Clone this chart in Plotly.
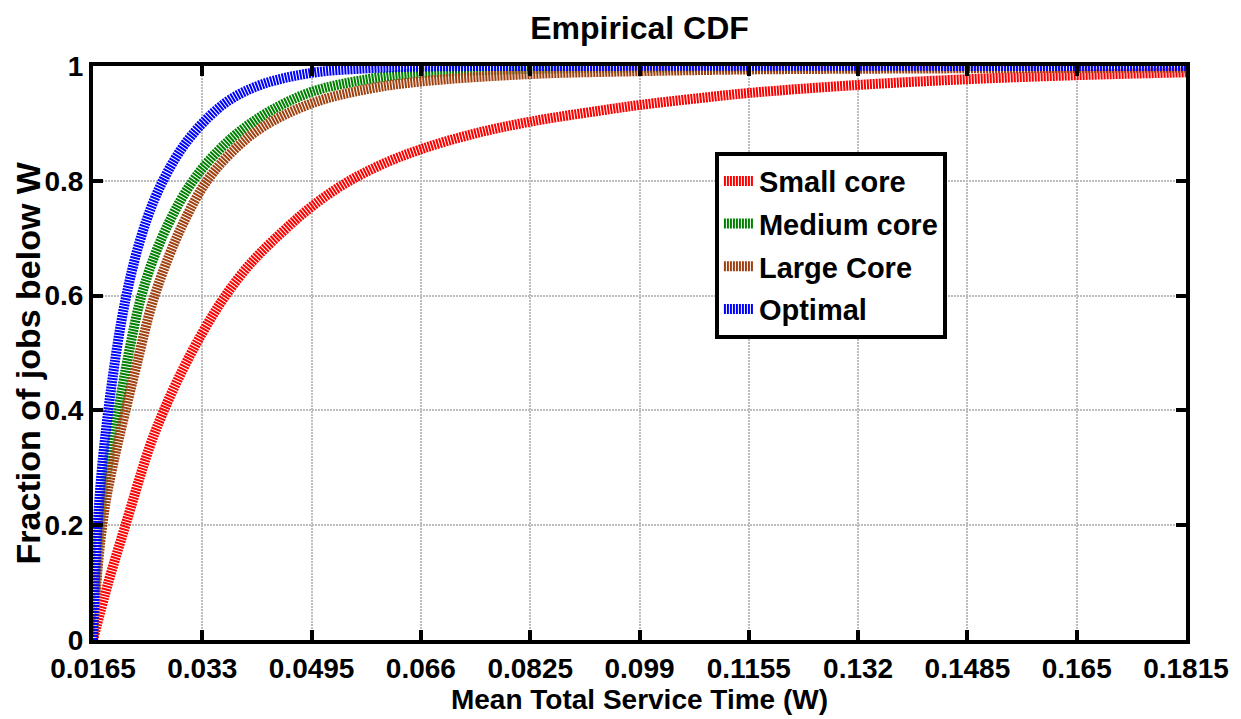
import plotly.graph_objects as go

# ---- data ----
small_x = [0.0165, 0.0188, 0.0214, 0.0250, 0.0272, 0.0300, 0.0330, 0.0362, 0.0402, 0.0450,
           0.0495, 0.0545, 0.0600, 0.0660, 0.0740, 0.0825, 0.0929, 0.0990, 0.1080, 0.1155,
           0.1320, 0.1485, 0.1650, 0.1815]
small_y = [0.0, 0.10, 0.20, 0.335, 0.40, 0.47, 0.535, 0.595, 0.655, 0.71,
           0.755, 0.795, 0.828, 0.855, 0.882, 0.903, 0.922, 0.932, 0.944, 0.953,
           0.967, 0.977, 0.984, 0.989]

medium_x = [0.0165, 0.0168, 0.0173, 0.0180, 0.0190, 0.0203, 0.0219, 0.0237, 0.0258, 0.0283,
            0.0310, 0.0340, 0.0380, 0.0430, 0.0495, 0.0580, 0.0660, 0.0825, 0.0990, 0.1320,
            0.1815]
medium_y = [0.0, 0.08, 0.17, 0.25, 0.32, 0.40, 0.50, 0.595, 0.67, 0.735,
            0.79, 0.835, 0.88, 0.92, 0.955, 0.977, 0.988, 0.995, 0.997, 0.999,
            1.0]

large_x = [0.0165, 0.0169, 0.0175, 0.0184, 0.0196, 0.0212, 0.0231, 0.0254, 0.0280, 0.0305,
           0.0334, 0.0370, 0.0420, 0.0495, 0.0580, 0.0660, 0.0825, 0.0990, 0.1155, 0.1485,
           0.1815]
large_y = [0.0, 0.08, 0.16, 0.24, 0.31, 0.39, 0.48, 0.585, 0.67, 0.735,
           0.795, 0.845, 0.893, 0.935, 0.960, 0.973, 0.986, 0.991, 0.994, 0.996,
           0.997]

optimal_x = [0.0165, 0.0167, 0.0171, 0.0177, 0.0185, 0.0195, 0.0207, 0.0221, 0.0237, 0.0255,
             0.0275, 0.0300, 0.0330, 0.0370, 0.0420, 0.0495, 0.0580, 0.0660, 0.0825, 0.1815]
optimal_y = [0.0, 0.08, 0.18, 0.28, 0.37, 0.46, 0.55, 0.63, 0.70, 0.76,
             0.81, 0.858, 0.900, 0.940, 0.968, 0.988, 0.996, 0.999, 1.0, 1.0]

x_ticks = [0.0165, 0.033, 0.0495, 0.066, 0.0825, 0.099, 0.1155, 0.132, 0.1485, 0.165, 0.1815]
x_tick_labels = ["0.0165", "0.033", "0.0495", "0.066", "0.0825", "0.099", "0.1155", "0.132",
                 "0.1485", "0.165", "0.1815"]
y_ticks = [0, 0.2, 0.4, 0.6, 0.8, 1.0]
y_tick_labels = ["0", "0.2", "0.4", "0.6", "0.8", "1"]

series = [
    ("Small core", small_x, small_y, "#ff0000"),
    ("Medium core", medium_x, medium_y, "#008000"),
    ("Large Core", large_x, large_y, "#a0400f"),
    ("Optimal", optimal_x, optimal_y, "#0000ff"),
]

FONT = "Liberation Sans, Arial, Helvetica, sans-serif"

fig = go.Figure()
for name, xs, ys, col in series:
    fig.add_trace(go.Scatter(
        x=xs, y=ys, name=name, mode="lines", legendgroup=name,
        line=dict(color=col, width=10, dash="2px,1px", shape="spline", smoothing=1.0),
    ))

axis_common = dict(
    showline=True, linecolor="black", linewidth=4, mirror="ticks",
    ticks="inside", ticklen=10, tickwidth=4, tickcolor="black",
    showgrid=True, gridcolor="#bdbdbd", gridwidth=2, griddash="2px,1px",
    zeroline=False,
    tickfont=dict(family=FONT, size=28, color="black", weight="bold"),
)

fig.update_layout(
    width=1241, height=719,
    paper_bgcolor="white", plot_bgcolor="white",
    margin=dict(l=93, r=53, t=66, b=70),
    font=dict(family=FONT, color="black", weight="bold"),
    title=dict(text="Empirical CDF", x=0.5, xref="paper", xanchor="center",
               y=1 - 28 / 719, yref="container", yanchor="middle",
               font=dict(family=FONT, size=32, color="black", weight="bold")),
    xaxis=dict(range=[0.0165, 0.1815], tickvals=x_ticks, ticktext=x_tick_labels,
               title=dict(text="Mean Total Service Time (W)", standoff=4,
                          font=dict(family=FONT, size=28, color="black", weight="bold")),
               **axis_common),
    yaxis=dict(range=[0, 1], tickvals=y_ticks, ticktext=y_tick_labels, **axis_common),
    legend=dict(x=0.569, y=0.851, xanchor="left", yanchor="top",
                bgcolor="white", bordercolor="black", borderwidth=4,
                font=dict(family=FONT, size=29, color="black", weight="bold"),
                itemwidth=30, tracegroupgap=2, traceorder="grouped",
                entrywidth=240),
    showlegend=True,
    annotations=[dict(
        text="Fraction of jobs below W", textangle=-90,
        xref="paper", yref="paper", x=-0.0594, y=0.482,
        xanchor="center", yanchor="middle", showarrow=False,
        font=dict(family=FONT, size=34, color="black", weight="bold"),
    )],
)

fig.write_html("out.html")
